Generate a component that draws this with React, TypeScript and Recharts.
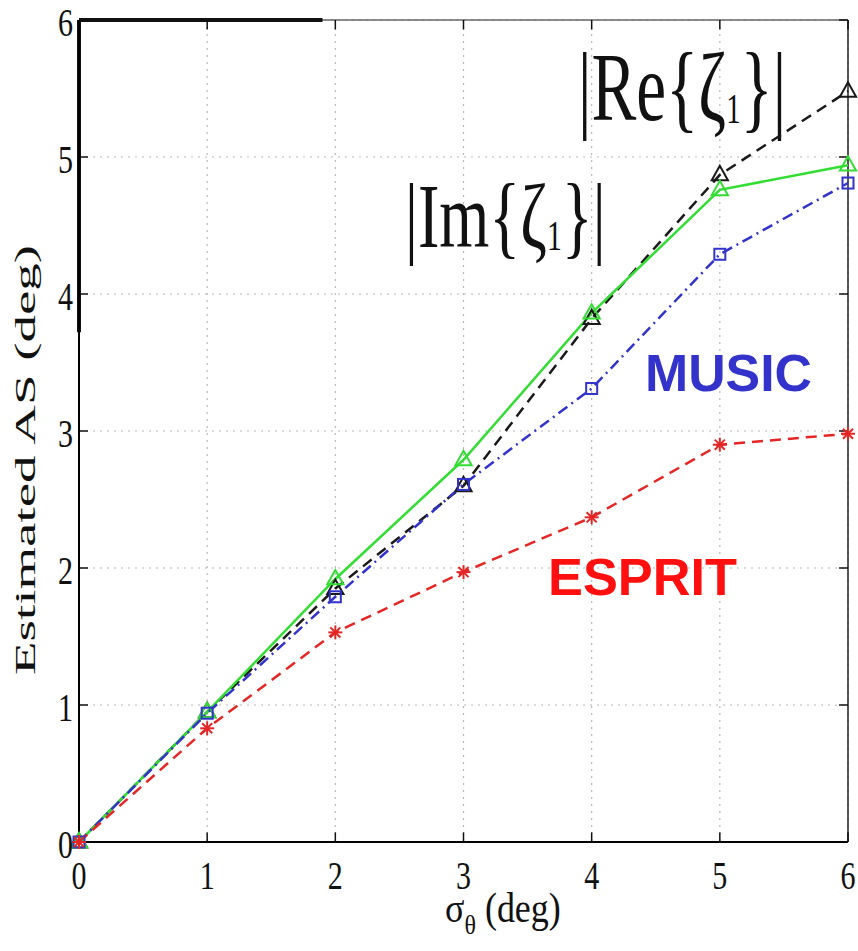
import React from "react";
import { LineChart, Line, XAxis, YAxis, CartesianGrid, ReferenceLine, Customized } from "recharts";

const SIGMA = [0, 1, 2, 3, 4, 5, 6];
const Y_TICKS = [0, 1, 2, 3, 4, 5, 6];
const RE_ZETA = [0, 0.95, 1.85, 2.6, 3.82, 4.87, 5.48];
const IM_ZETA = [0, 0.95, 1.92, 2.79, 3.86, 4.76, 4.94];
const MUSIC = [0, 0.94, 1.79, 2.61, 3.31, 4.29, 4.81];
const ESPRIT = [0, 0.83, 1.53, 1.97, 2.37, 2.9, 2.98];

const data = SIGMA.map((s, i) => ({
  s,
  re: RE_ZETA[i],
  im: IM_ZETA[i],
  music: MUSIC[i],
  esprit: ESPRIT[i],
}));

const SERIF = "'Liberation Serif', 'Times New Roman', serif";
const SANS = "'Liberation Sans', Arial, sans-serif";

const BLACK = "#1a1a1a";
const GREEN = "#33dd33";
const BLUE = "#3333cc";
const RED = "#e52626";

const Tri = (color: string) => (p: any) => {
  const { cx, cy, index } = p;
  if (cx == null || cy == null) return <g key={index} />;
  const r = 9;
  return (
    <polygon
      key={index}
      points={`${cx},${cy - r} ${cx - r * 0.9},${cy + r * 0.6} ${cx + r * 0.9},${cy + r * 0.6}`}
      fill="none"
      stroke={color}
      strokeWidth={2}
    />
  );
};

const Sq = (color: string) => (p: any) => {
  const { cx, cy, index } = p;
  if (cx == null || cy == null) return <g key={index} />;
  const r = 5.5;
  return <rect key={index} x={cx - r} y={cy - r} width={2 * r} height={2 * r} fill="none" stroke={color} strokeWidth={2} />;
};

const Star = (color: string) => (p: any) => {
  const { cx, cy, index } = p;
  if (cx == null || cy == null) return <g key={index} />;
  const r = 7;
  const d = r * 0.72;
  return (
    <g key={index} stroke={color} strokeWidth={2}>
      <line x1={cx} y1={cy - r} x2={cx} y2={cy + r} />
      <line x1={cx - r} y1={cy} x2={cx + r} y2={cy} />
      <line x1={cx - d} y1={cy - d} x2={cx + d} y2={cy + d} />
      <line x1={cx - d} y1={cy + d} x2={cx + d} y2={cy - d} />
    </g>
  );
};

const YTick = (p: any) => {
  const { x, y, payload } = p;
  return (
    <text x={x} y={y + 16} textAnchor="end" fontFamily={SERIF} fontSize={40} fill="#111" textLength={15} lengthAdjust="spacingAndGlyphs">
      {payload.value}
    </text>
  );
};

const XTick = (p: any) => {
  const { x, y, payload } = p;
  return (
    <text x={x - 7.5} y={y + 47} textAnchor="start" fontFamily={SERIF} fontSize={40} fill="#111" textLength={15} lengthAdjust="spacingAndGlyphs">
      {payload.value}
    </text>
  );
};

const Annotations = () => (
  <g>
    <text transform="translate(578,120) scale(0.96,1.4)" fontFamily={SERIF} fontSize={70} fill="#111">
      |Re{"{"}ζ<tspan fontSize={30} dy={2}>1</tspan>
      <tspan dy={-2}>{"}"}|</tspan>
    </text>
    <text transform="translate(405,247) scale(0.99,1.39)" fontFamily={SERIF} fontSize={65} fill="#111">
      |Im{"{"}ζ<tspan fontSize={30} dy={2}>1</tspan>
      <tspan dy={-2}>{"}"}|</tspan>
    </text>
    <text x={645} y={391} fontFamily={SANS} fontWeight="bold" fontSize={52} fill={BLUE} textLength={167} lengthAdjust="spacingAndGlyphs">
      MUSIC
    </text>
    <text x={548} y={595} fontFamily={SANS} fontWeight="bold" fontSize={51} fill="#ff1010" textLength={189} lengthAdjust="spacingAndGlyphs">
      ESPRIT
    </text>
    <text transform="translate(445,922) scale(1,1.15)" fontFamily={SERIF} fontSize={36} fill="#111">
      σ<tspan fontSize={24} dy={10}>θ</tspan>
      <tspan dy={-10}> (deg)</tspan>
    </text>
    <text
      transform="translate(35,675) rotate(-90)"
      fontFamily={SERIF}
      fontSize={30}
      fill="#111"
      textLength={430}
      lengthAdjust="spacingAndGlyphs"
    >
      Estimated AS (deg)
    </text>
  </g>
);

export default function App() {
  return (
    <div style={{ position: "absolute", left: 0, top: 0, width: 858, height: 951, background: "#fff" }}>
      <LineChart width={858} height={951} data={data} margin={{ top: 20, right: 10, left: 0, bottom: 49 }}>
        <CartesianGrid stroke="#b8b8b8" strokeDasharray="2 5" strokeWidth={1.2} />
        <XAxis
          dataKey="s"
          type="number"
          domain={[0, 6]}
          ticks={SIGMA}
          height={60}
          tickSize={0}
          tickMargin={0}
          tick={<XTick />}
          axisLine={{ stroke: "#000", strokeWidth: 2 }}
          interval={0}
        />
        <YAxis
          type="number"
          domain={[0, 6]}
          ticks={Y_TICKS}
          width={79}
          tickSize={0}
          tickMargin={6}
          tick={<YTick />}
          axisLine={{ stroke: "#000", strokeWidth: 2 }}
          interval={0}
        />
        {/* frame */}
        <ReferenceLine segment={[{ x: 0, y: 6 }, { x: 6, y: 6 }]} stroke="#666" strokeWidth={1.5} />
        <ReferenceLine segment={[{ x: 6, y: 0 }, { x: 6, y: 6 }]} stroke="#222" strokeWidth={1.5} />
        <ReferenceLine segment={[{ x: 0, y: 6 }, { x: 1.9, y: 6 }]} stroke="#111" strokeWidth={4} />
        <ReferenceLine segment={[{ x: 0, y: 3.72 }, { x: 0, y: 6 }]} stroke="#111" strokeWidth={4} />
        {/* inward ticks */}
        {Y_TICKS.map((t) => (
          <ReferenceLine key={`yl${t}`} segment={[{ x: 0, y: t }, { x: 0.07, y: t }]} stroke="#111" strokeWidth={1.5} />
        ))}
        {Y_TICKS.map((t) => (
          <ReferenceLine key={`yr${t}`} segment={[{ x: 5.93, y: t }, { x: 6, y: t }]} stroke="#111" strokeWidth={1.5} />
        ))}
        {SIGMA.map((t) => (
          <ReferenceLine key={`xb${t}`} segment={[{ x: t, y: 0 }, { x: t, y: 0.07 }]} stroke="#111" strokeWidth={1.5} />
        ))}
        {SIGMA.map((t) => (
          <ReferenceLine key={`xt${t}`} segment={[{ x: t, y: 5.93 }, { x: t, y: 6 }]} stroke="#111" strokeWidth={1.5} />
        ))}
        <Line dataKey="re" stroke={BLACK} strokeWidth={2.5} strokeDasharray="11 7" dot={Tri(BLACK)} isAnimationActive={false} />
        <Line dataKey="im" stroke={GREEN} strokeWidth={2.5} dot={Tri(GREEN)} isAnimationActive={false} />
        <Line dataKey="music" stroke={BLUE} strokeWidth={2.5} strokeDasharray="11 5 2 5" dot={Sq(BLUE)} isAnimationActive={false} />
        <Line dataKey="esprit" stroke={RED} strokeWidth={2.5} strokeDasharray="11 7" dot={Star(RED)} isAnimationActive={false} />
        <Customized component={Annotations} />
      </LineChart>
    </div>
  );
}
